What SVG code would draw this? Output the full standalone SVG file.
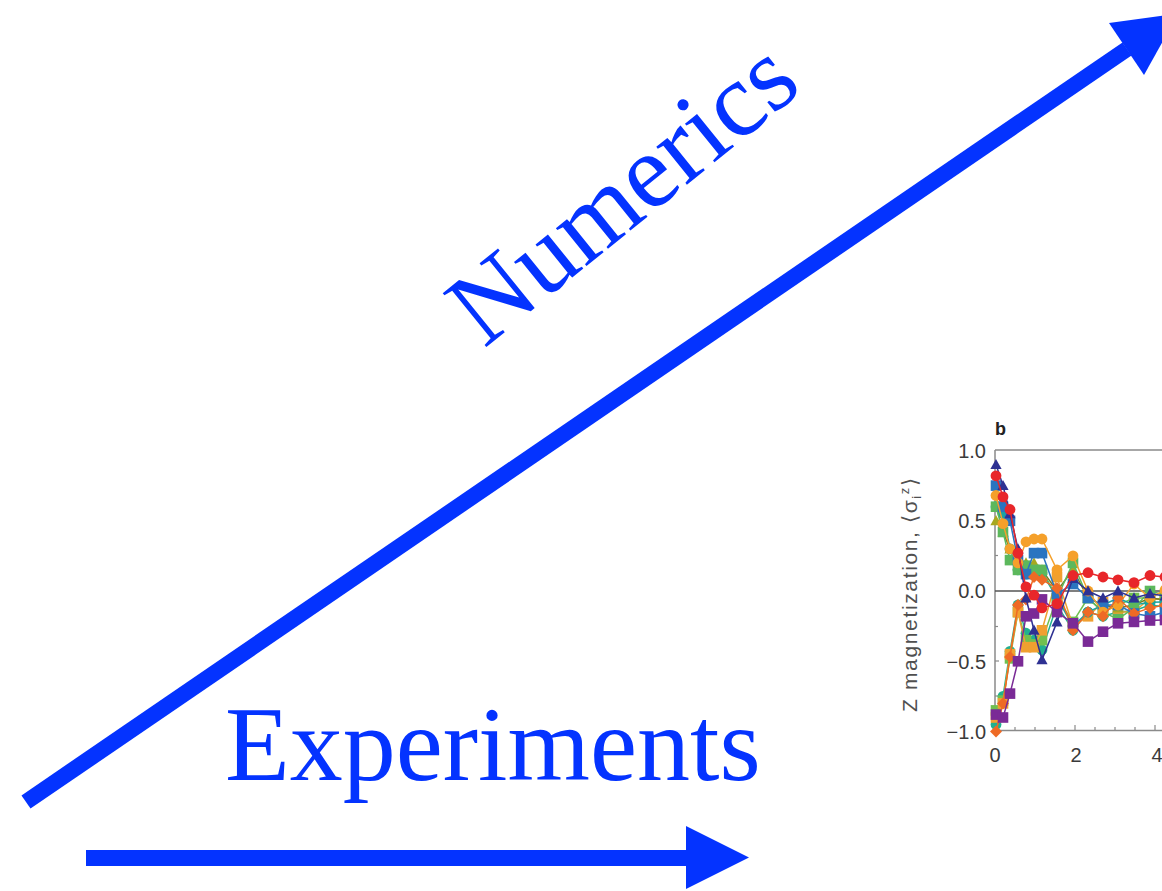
<svg xmlns="http://www.w3.org/2000/svg" width="1162" height="891" viewBox="0 0 1162 891">
<style>
.blue{fill:#0433ff}
.big{font-family:"Liberation Sans",Arial,sans-serif}
.big{font-family:"Liberation Serif","Times New Roman",serif;font-size:106px;fill:#0433ff}
.tick{font-family:"Liberation Sans",Arial,sans-serif;font-size:20px;fill:#3a3a3a}
.ylab{font-family:"Liberation Sans",Arial,sans-serif;font-size:21px;fill:#505050}
.ax{stroke:#8a8a8a;stroke-width:1.5;fill:none}
.s{fill:none;stroke-width:1.5}
</style>
<defs>
<marker id="m1" markerUnits="userSpaceOnUse" markerWidth="12" markerHeight="12" refX="6" refY="6" viewBox="0 0 12 12" overflow="visible"><circle cx="6" cy="6" r="5.4" fill="#e8262a"/></marker>
<marker id="m2" markerUnits="userSpaceOnUse" markerWidth="12" markerHeight="12" refX="6" refY="6" viewBox="0 0 12 12" overflow="visible"><path d="M6,0.3 L11.6,10.5 L0.4,10.5 Z" fill="#2e3192"/></marker>
<marker id="m3" markerUnits="userSpaceOnUse" markerWidth="12" markerHeight="12" refX="6" refY="6" viewBox="0 0 12 12" overflow="visible"><rect x="0.7" y="0.7" width="10.6" height="10.6" fill="#2a74c0"/></marker>
<marker id="m4" markerUnits="userSpaceOnUse" markerWidth="12" markerHeight="12" refX="6" refY="6" viewBox="0 0 12 12" overflow="visible"><circle cx="6" cy="6" r="5.4" fill="#1aa3a0"/></marker>
<marker id="m5" markerUnits="userSpaceOnUse" markerWidth="12" markerHeight="12" refX="6" refY="6" viewBox="0 0 12 12" overflow="visible"><rect x="0.7" y="0.7" width="10.6" height="10.6" fill="#5cb85c"/></marker>
<marker id="m6" markerUnits="userSpaceOnUse" markerWidth="12" markerHeight="12" refX="6" refY="6" viewBox="0 0 12 12" overflow="visible"><circle cx="6" cy="6" r="5.4" fill="#f5a02a"/></marker>
<marker id="m7" markerUnits="userSpaceOnUse" markerWidth="12" markerHeight="12" refX="6" refY="6" viewBox="0 0 12 12" overflow="visible"><path d="M6,0.3 L11.6,10.5 L0.4,10.5 Z" fill="#a8a820"/></marker>
<marker id="m8" markerUnits="userSpaceOnUse" markerWidth="12" markerHeight="12" refX="6" refY="6" viewBox="0 0 12 12" overflow="visible"><rect x="0.7" y="0.7" width="10.6" height="10.6" fill="#7a2a96"/></marker>
<marker id="m9" markerUnits="userSpaceOnUse" markerWidth="12" markerHeight="12" refX="6" refY="6" viewBox="0 0 12 12" overflow="visible"><path d="M6,0 L12,6 L6,12 L0,6 Z" fill="#ee6a25"/></marker>
<marker id="m10" markerUnits="userSpaceOnUse" markerWidth="12" markerHeight="12" refX="6" refY="6" viewBox="0 0 12 12" overflow="visible"><circle cx="6" cy="6" r="5.4" fill="#20b090"/></marker>
<marker id="m11" markerUnits="userSpaceOnUse" markerWidth="12" markerHeight="12" refX="6" refY="6" viewBox="0 0 12 12" overflow="visible"><rect x="0.7" y="0.7" width="10.6" height="10.6" fill="#f0a030"/></marker>
<marker id="m12" markerUnits="userSpaceOnUse" markerWidth="12" markerHeight="12" refX="6" refY="6" viewBox="0 0 12 12" overflow="visible"><rect x="0.7" y="0.7" width="10.6" height="10.6" fill="#70c050"/></marker>
</defs>
<rect width="1162" height="891" fill="#ffffff"/>

<g id="connectors">
  <line x1="26" y1="802" x2="1127" y2="49" stroke="#0433ff" stroke-width="16"/>
  <polygon class="blue" points="1109,23 1178.5,13.4 1144,75"/>
  <rect class="blue" x="86" y="850" width="601" height="16"/>
  <polygon class="blue" points="686,826 749,857.5 686,889"/>
</g>

<g id="label-numerics">
  <text class="big" transform="translate(484,349) rotate(-39)">Numerics</text>
</g>
<g id="label-experiments">
  <text class="big" x="225" y="780">Experiments</text>
</g>

<g id="plot">
  <text x="995" y="435" style="font-family:'Liberation Sans',Arial,sans-serif;font-size:18px;font-weight:bold;fill:#222">b</text>
  <line class="ax" x1="995" y1="450" x2="1162" y2="450"/>
  <line class="ax" x1="995" y1="450" x2="995" y2="731"/>
  <line class="ax" x1="995" y1="730.5" x2="1162" y2="730.5"/>
  <line x1="995" y1="591" x2="1162" y2="591" stroke="#555" stroke-width="1.3"/>
  <g stroke="#8a8a8a" stroke-width="1.2">
    <line x1="995" y1="520.5" x2="999" y2="520.5"/><line x1="995" y1="555.5" x2="998" y2="555.5"/>
    <line x1="995" y1="626.5" x2="998" y2="626.5"/><line x1="995" y1="661" x2="999" y2="661"/>
    <line x1="995" y1="696" x2="998" y2="696"/><line x1="995" y1="485" x2="998" y2="485"/>
    <line x1="1015" y1="730" x2="1015" y2="727"/><line x1="1035" y1="730" x2="1035" y2="727"/>
    <line x1="1055" y1="730" x2="1055" y2="727"/><line x1="1075" y1="730" x2="1075" y2="725"/>
    <line x1="1095" y1="730" x2="1095" y2="727"/><line x1="1115" y1="730" x2="1115" y2="727"/>
    <line x1="1135" y1="730" x2="1135" y2="727"/><line x1="1155" y1="730" x2="1155" y2="725"/>
  </g>
  <g class="tick" text-anchor="end">
    <text x="986" y="458">1.0</text>
    <text x="986" y="528">0.5</text>
    <text x="986" y="598">0.0</text>
    <text x="986" y="669">−0.5</text>
    <text x="986" y="739">−1.0</text>
  </g>
  <g class="tick" text-anchor="middle">
    <text x="995" y="762">0</text>
    <text x="1076" y="762">2</text>
    <text x="1157" y="762">4</text>
  </g>
  <text class="ylab" transform="translate(917,595) rotate(-90)" text-anchor="middle" textLength="234" lengthAdjust="spacing">Z magnetization, ⟨σ<tspan font-size="13" dy="4">i</tspan><tspan font-size="13" dy="-12">z</tspan><tspan dy="8">⟩</tspan></text>

  <g id="series">
    <polyline class="s" stroke="#20b090" marker-start="url(#m10)" marker-mid="url(#m10)" marker-end="url(#m10)" points="996,724.5 1003,696.4 1010,651.4 1018,605 1026,633.2 1034,640.2 1042,650 1057,605 1073,630.3 1088,612.1 1103,616.3 1118,612.1 1134,610.7 1150,605 1165,607"/>
    <polyline class="s" stroke="#70c050" marker-start="url(#m12)" marker-mid="url(#m12)" marker-end="url(#m12)" points="996,710.4 1003,700.6 1010,658.4 1018,612.1 1026,640.2 1034,644.4 1042,640.2 1057,598 1073,621.9 1088,598 1103,612.1 1118,605 1134,598 1150,598 1165,600"/>
    <polyline class="s" stroke="#f0a030" marker-start="url(#m11)" marker-mid="url(#m11)" marker-end="url(#m11)" points="996,717.5 1003,703.4 1010,654.2 1018,612.1 1026,647.2 1034,647.2 1042,630.3 1057,577 1073,626.1 1088,616.3 1103,602.2 1118,612.1 1134,612.1 1150,598 1165,600"/>
    <polyline class="s" stroke="#7a7a20" marker-start="url(#m7)" marker-mid="url(#m7)" marker-end="url(#m7)" points="996,520.8 1003,532 1010,548.9 1018,565.7 1026,562.9 1034,562.9 1042,569.9 1057,591 1073,569.9 1088,598 1103,605 1118,607.9 1134,605 1150,598 1165,600"/>
    <polyline class="s" stroke="#1aa3a0" marker-start="url(#m4)" marker-mid="url(#m4)" marker-end="url(#m4)" points="996,506.7 1003,513.7 1010,548.9 1018,569.9 1026,574.1 1034,572.7 1042,572.7 1057,598 1073,626.1 1088,612.1 1103,605 1118,598 1134,605 1150,602.2 1165,602"/>
    <polyline class="s" stroke="#5cb85c" marker-start="url(#m5)" marker-mid="url(#m5)" marker-end="url(#m5)" points="996,506.7 1003,532 1010,560.1 1018,569.9 1026,565.7 1034,569.9 1042,569.9 1057,598 1073,562.9 1088,598 1103,612.1 1118,619.1 1134,607.9 1150,591 1165,595"/>
    <polyline class="s" stroke="#2a74c0" marker-start="url(#m3)" marker-mid="url(#m3)" marker-end="url(#m3)" points="996,485.6 1003,506.7 1010,520.8 1018,560.1 1026,574.1 1034,553.1 1042,553.1 1057,593.8 1073,584 1088,598 1103,605 1118,605 1134,613.5 1150,616.3 1165,612"/>
    <polyline class="s" stroke="#f5a02a" marker-start="url(#m6)" marker-mid="url(#m6)" marker-end="url(#m6)" points="996,495.5 1003,523.6 1010,548.9 1018,562.9 1026,541.8 1034,539 1042,539 1057,569.9 1073,555.9 1088,591 1103,612.1 1118,605 1134,584 1150,598 1165,590"/>
    <polyline class="s" stroke="#ee6a25" marker-start="url(#m9)" marker-mid="url(#m9)" marker-end="url(#m9)" points="996,731.5 1003,703.4 1010,657 1018,605 1026,599.4 1034,577 1042,579.8 1057,588.2 1073,630.3 1088,612.1 1103,616.3 1118,598 1134,613.5 1150,607.9 1165,605"/>
    <polyline class="s" stroke="#2e3192" marker-start="url(#m2)" marker-mid="url(#m2)" marker-end="url(#m2)" points="996,464.6 1003,485.6 1010,513.7 1018,548.9 1026,598 1034,630.3 1042,659.8 1057,621.9 1073,578.4 1088,591 1103,598 1118,591 1134,598 1150,593.8 1165,596"/>
    <polyline class="s" stroke="#7a2a96" marker-start="url(#m8)" marker-mid="url(#m8)" marker-end="url(#m8)" points="996,714.6 1003,717.5 1010,693.6 1018,661.3 1026,616.3 1034,613.5 1042,599.4 1057,612.1 1073,623.3 1088,641.6 1103,631.7 1118,623.3 1134,621.9 1150,620.5 1165,620"/>
    <polyline class="s" stroke="#e8262a" marker-start="url(#m1)" marker-mid="url(#m1)" marker-end="url(#m1)" points="996,475.8 1003,496.9 1010,509.5 1018,553.1 1026,586.8 1034,595.2 1042,607.9 1057,603.6 1073,575.5 1088,572.7 1103,577 1118,579.8 1134,582.6 1150,575.5 1165,577"/>
  </g>
</g>
</svg>
